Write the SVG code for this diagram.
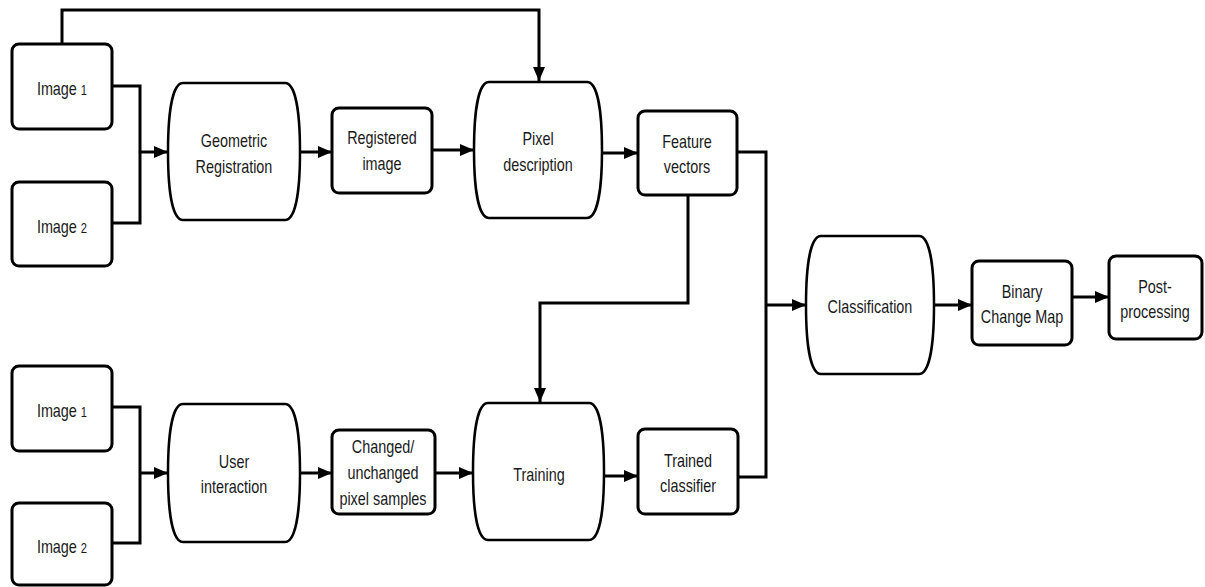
<svg xmlns="http://www.w3.org/2000/svg" width="1205" height="587" viewBox="0 0 1205 587">
  <style>
    .box { fill: #fff; stroke: #000; stroke-width: 3; }
    .proc { fill: #fff; stroke: #000; stroke-width: 2.5; }
    .lbl { font-family: "Liberation Sans", Arial, sans-serif; font-size: 18px; fill: #1a1a1a; text-anchor: middle;
           transform-box: fill-box; transform-origin: center; transform: scaleX(0.8); }
    .sm { font-size: 14px; }
    .wire { fill: none; stroke: #000; stroke-width: 3; }
    .arr { fill: none; stroke: #000; stroke-width: 3; marker-end: url(#head); }
  </style>
  <defs>
    <marker id="head" viewBox="0 0 14 12" refX="14" refY="6" markerWidth="14" markerHeight="12" markerUnits="userSpaceOnUse" orient="auto">
      <path d="M0,0 L14,6 L0,12 Z" fill="#000"/>
    </marker>
  </defs>
  <rect width="1205" height="587" fill="#fff"/>

  <g id="connectors">
    <!-- upper row -->
    <path class="arr" d="M62,44 V10 H539 V81"/>
    <path class="wire" d="M112,86 H140 V223 H112"/>
    <path class="arr" d="M140,152 H168"/>
    <path class="arr" d="M300,152 H332"/>
    <path class="arr" d="M432,150 H474"/>
    <path class="arr" d="M602,153 H638"/>
    <path class="wire" d="M737,152 H766 V477 H738"/>
    <path class="arr" d="M766,305 H806"/>
    <path class="arr" d="M688,195 V303 H540 V402"/>
    <path class="arr" d="M934,305 H972"/>
    <path class="arr" d="M1072,297 H1109"/>
    <!-- lower row -->
    <path class="wire" d="M112,407 H140 V543 H112"/>
    <path class="arr" d="M140,473 H168"/>
    <path class="arr" d="M300,473 H332"/>
    <path class="arr" d="M435,473 H473"/>
    <path class="arr" d="M604,476 H638"/>
  </g>

  <g id="image1-top">
    <rect class="box" x="12" y="44" width="100" height="85" rx="7"/>
    <text class="lbl" x="62" y="95">Image <tspan class="sm">1</tspan></text>
  </g>
  <g id="image2-top">
    <rect class="box" x="12" y="182" width="100" height="84" rx="7"/>
    <text class="lbl" x="62" y="233">Image <tspan class="sm">2</tspan></text>
  </g>
  <g id="geometric-registration">
    <path class="proc" d="M183,83 H285 C295,83 300,110 300,152 C300,194 295,220 285,220 H183 C173,220 168,194 168,152 C168,110 173,83 183,83 Z"/>
    <text class="lbl" x="234" y="147">Geometric</text>
    <text class="lbl" x="234" y="173">Registration</text>
  </g>
  <g id="registered-image">
    <rect class="box" x="332" y="108" width="100" height="85" rx="7"/>
    <text class="lbl" x="382" y="144">Registered</text>
    <text class="lbl" x="382" y="170">image</text>
  </g>
  <g id="pixel-description">
    <path class="proc" d="M489,82 H587 C597,82 602,109 602,150 C602,191 597,218 587,218 H489 C479,218 474,191 474,150 C474,109 479,82 489,82 Z"/>
    <text class="lbl" x="538" y="145">Pixel</text>
    <text class="lbl" x="538" y="171">description</text>
  </g>
  <g id="feature-vectors">
    <rect class="box" x="638" y="111" width="99" height="84" rx="7"/>
    <text class="lbl" x="687" y="148">Feature</text>
    <text class="lbl" x="687" y="173">vectors</text>
  </g>
  <g id="classification">
    <path class="proc" d="M821,236 H919 C929,236 934,263 934,305 C934,347 929,374 919,374 H821 C811,374 806,347 806,305 C806,263 811,236 821,236 Z"/>
    <text class="lbl" x="870" y="313">Classification</text>
  </g>
  <g id="binary-change-map">
    <rect class="box" x="972" y="261" width="100" height="84" rx="7"/>
    <text class="lbl" x="1022" y="298">Binary</text>
    <text class="lbl" x="1022" y="323">Change Map</text>
  </g>
  <g id="post-processing">
    <rect class="box" x="1109" y="256" width="93" height="83" rx="7"/>
    <text class="lbl" x="1155" y="293">Post-</text>
    <text class="lbl" x="1155" y="318">processing</text>
  </g>

  <g id="image1-bottom">
    <rect class="box" x="12" y="366" width="100" height="85" rx="7"/>
    <text class="lbl" x="62" y="417">Image <tspan class="sm">1</tspan></text>
  </g>
  <g id="image2-bottom">
    <rect class="box" x="12" y="503" width="100" height="82" rx="7"/>
    <text class="lbl" x="62" y="553">Image <tspan class="sm">2</tspan></text>
  </g>
  <g id="user-interaction">
    <path class="proc" d="M183,404 H285 C295,404 300,431 300,473 C300,515 295,542 285,542 H183 C173,542 168,515 168,473 C168,431 173,404 183,404 Z"/>
    <text class="lbl" x="234" y="468">User</text>
    <text class="lbl" x="234" y="493">interaction</text>
  </g>
  <g id="pixel-samples">
    <rect class="box" x="332" y="430" width="103" height="84" rx="7"/>
    <text class="lbl" x="383" y="453">Changed/</text>
    <text class="lbl" x="383" y="479">unchanged</text>
    <text class="lbl" x="383" y="505">pixel samples</text>
  </g>
  <g id="training">
    <path class="proc" d="M488,403 H589 C599,403 604,430 604,472 C604,514 599,540 589,540 H488 C478,540 473,514 473,472 C473,430 478,403 488,403 Z"/>
    <text class="lbl" x="539" y="481">Training</text>
  </g>
  <g id="trained-classifier">
    <rect class="box" x="638" y="429" width="100" height="85" rx="7"/>
    <text class="lbl" x="688" y="467">Trained</text>
    <text class="lbl" x="688" y="492">classifier</text>
  </g>
</svg>
